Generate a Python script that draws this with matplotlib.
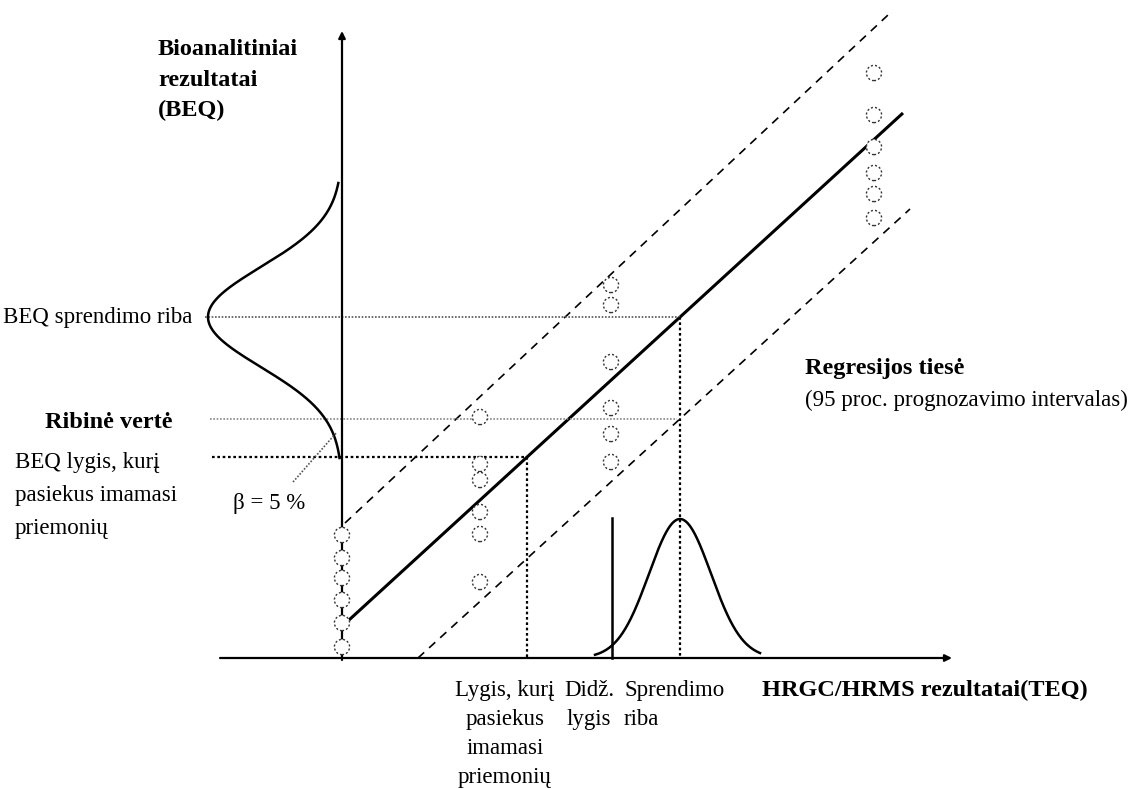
import matplotlib.pyplot as plt
import numpy as np

plt.rcParams['font.family'] = ['Liberation Serif', 'DejaVu Serif']

# Regression line and the 95 % prediction band (TEQ on x, BEQ on y)
reg_x = [0.07, 5.61]
reg_y = [0.38, 5.45]
upper_x = [0.03, 5.46]
upper_y = [1.35, 6.43]
lower_x = [0.76, 5.68]
lower_y = [0.00, 4.49]

# Measured samples, grouped by TEQ level
col_x = [0.0, 1.38, 2.69, 5.32]
col_y = [
    [1.23, 1.00, 0.80, 0.58, 0.35, 0.11],
    [2.41, 1.94, 1.78, 1.46, 1.24, 0.76],
    [3.73, 3.53, 2.96, 2.50, 2.24, 1.96],
    [5.85, 5.43, 5.11, 4.85, 4.64, 4.40],
]

# Threshold levels
beq_decision = 3.41      # BEQ sprendimo riba
limit_value = 2.39       # Ribine verte
beq_action = 2.01        # BEQ lygis, kuri pasiekus imamasi priemoniu
teq_max = 2.70           # Didz. lygis
teq_action = 1.85
teq_decision = 3.38

# Distributions: left one on BEQ axis, bottom one on TEQ axis
left_amp, left_sigma, left_range = 1.34, 0.50, [2.00, 4.75]
bot_amp, bot_sigma, bot_range = 1.39, 0.31, [2.53, 4.18]

fig = plt.figure(figsize=(11.39, 7.89), dpi=100)
ax = fig.add_axes([0, 0, 1, 1])
ax.set_xlim(-3.42, 7.97)
ax.set_ylim(-1.31, 6.58)
ax.axis('off')

# axes with arrows
ax.annotate('', xy=(0, 6.27), xytext=(0, -0.02),
            arrowprops=dict(arrowstyle='-|>', color='black', lw=1.6,
                            mutation_scale=10, shrinkA=0, shrinkB=0))
ax.annotate('', xy=(6.10, 0), xytext=(-1.22, 0),
            arrowprops=dict(arrowstyle='-|>', color='black', lw=1.6,
                            mutation_scale=10, shrinkA=0, shrinkB=0))

# regression + band
ax.plot(reg_x, reg_y, color='black', lw=2.2, solid_capstyle='butt')
ax.plot(upper_x, upper_y, color='black', lw=1.2, dashes=(5, 4))
ax.plot(lower_x, lower_y, color='black', lw=1.2, dashes=(5, 4))

# horizontal threshold lines
ax.plot([-1.37, teq_decision], [beq_decision, beq_decision], color='#555555', lw=1.2, ls=(0, (1, 1)))
ax.plot([-1.32, 3.35], [limit_value, limit_value], color='#888888', lw=1.2, ls=(0, (1, 1)))
ax.plot([-1.30, teq_action], [beq_action, beq_action], color='black', lw=1.6, ls=(0, (1.2, 1.2)))

# vertical drop lines
ax.plot([teq_action, teq_action], [beq_action, 0], color='black', lw=1.6, ls=(0, (1.2, 1.2)))
ax.plot([teq_decision, teq_decision], [beq_decision, 0], color='black', lw=1.6, ls=(0, (1.2, 1.2)))
ax.plot([teq_max, teq_max], [0, 1.40], color='black', lw=1.8)

# left gaussian
yy = np.linspace(left_range[0], left_range[1], 300)
ax.plot(-left_amp * np.exp(-0.5 * ((yy - beq_decision) / left_sigma) ** 2), yy, color='black', lw=1.8)

# bottom gaussian
xx = np.linspace(bot_range[0], bot_range[1], 300)
ax.plot(xx, bot_amp * np.exp(-0.5 * ((xx - teq_decision) / bot_sigma) ** 2), color='black', lw=1.8)

# beta pointer
ax.plot([-0.49, -0.05], [1.76, 2.26], color='#555555', lw=1.2, ls=(0, (1, 1)))

# samples
for cx, ys in zip(col_x, col_y):
    ax.scatter([cx] * len(ys), ys, s=120, facecolors='white', edgecolors='#333333',
               linewidths=1.0, linestyle=(0, (1.5, 1.5)), zorder=3)

# texts
fs = 16.5
fb = 17.5
ax.text(-1.84, 6.19, 'Bioanalitiniai\nrezultatai\n(BEQ)', fontsize=fb, fontweight='bold',
        ha='left', va='top', linespacing=1.6)
ax.text(-3.39, beq_decision, 'BEQ sprendimo riba', fontsize=fs, ha='left', va='center')
ax.text(-2.97, 2.35, 'Ribinė vertė', fontsize=fb, fontweight='bold', ha='left', va='center')
ax.text(-3.27, 2.06, 'BEQ lygis, kurį\npasiekus imamasi\npriemonių', fontsize=fs,
        ha='left', va='top', linespacing=1.75)
ax.text(-1.09, 1.55, 'β = 5 %', fontsize=fs, ha='left', va='center')
ax.text(4.63, 2.90, 'Regresijos tiesė', fontsize=fb, fontweight='bold', ha='left', va='center')
ax.text(4.63, 2.58, '(95 proc. prognozavimo intervalas)', fontsize=fs, ha='left', va='center')
ax.text(1.63, -0.22, 'Lygis, kurį\npasiekus\nimamasi\npriemonių', fontsize=fs,
        ha='center', va='top', linespacing=1.5)
ax.text(2.47, -0.22, 'Didž.\nlygis', fontsize=fs, ha='center', va='top', linespacing=1.5)
ax.text(2.82, -0.22, 'Sprendimo\nriba', fontsize=fs, ha='left', va='top', linespacing=1.5)
ax.text(4.20, -0.22, 'HRGC/HRMS rezultatai(TEQ)', fontsize=fb, fontweight='bold',
        ha='left', va='top')

fig.savefig('out.png', dpi=100)
